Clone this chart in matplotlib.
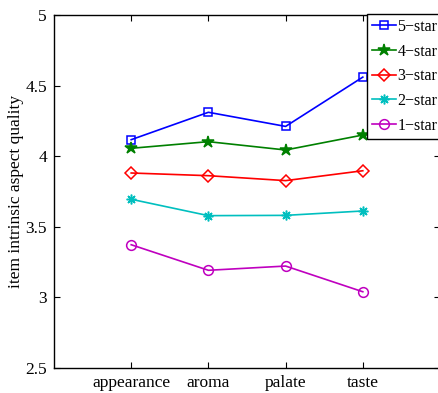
import matplotlib
matplotlib.use("Agg")
import matplotlib.pyplot as plt

aspects = ["appearance", "aroma", "palate", "taste"]
star5 = [4.117, 4.311, 4.211, 4.56]
star4 = [4.056, 4.103, 4.044, 4.15]
star3 = [3.881, 3.862, 3.827, 3.897]
star2 = [3.695, 3.579, 3.581, 3.612]
star1 = [3.373, 3.192, 3.222, 3.040]
labels = ["5\u2212star", "4\u2212star", "3\u2212star", "2\u2212star", "1\u2212star"]

plt.rcParams['font.family'] = ['Liberation Serif', 'DejaVu Serif']
fig = plt.figure(figsize=(4.38, 3.93), dpi=100)
ax = fig.add_axes([54/438, 1-368/393, 386/438, 353/393])

x = [1, 2, 3, 4]
styles = [
    (star5, 'b', 's', 6, 'none'),
    (star4, 'g', '*', 9, 'g'),
    (star3, 'r', 'D', 6, 'none'),
    (star2, 'c', (8, 2, 0), 7, 'c'),
    (star1, 'm', 'o', 7, 'none'),
]
for (vals, c, m, ms, fc), lab in zip(styles, labels):
    ax.plot(x, vals, color=c, marker=m, markersize=ms, markerfacecolor=fc,
            markeredgecolor=c, markeredgewidth=1.1, linewidth=1.2, label=lab)

ax.set_xlim(0, 5)
ax.set_ylim(2.5, 5)
ax.set_xticks(x)
ax.set_xticklabels(aspects)
ax.set_yticks([2.5, 3, 3.5, 4, 4.5, 5])
ax.set_yticklabels(["2.5", "3", "3.5", "4", "4.5", "5"])
ax.tick_params(direction='in', top=True, right=True, labelsize=12.5, length=4, width=0.8, pad=5)
ax.set_ylabel("item intrinsic aspect quality", fontsize=12.5, labelpad=1)
for s in ax.spines.values():
    s.set_linewidth(1.0)

leg = ax.legend(loc='upper left', bbox_to_anchor=((367-54)/386, 1.003), fontsize=11.5,
                frameon=True, fancybox=False, edgecolor='k', framealpha=1,
                handlelength=1.5, borderaxespad=0.0, labelspacing=0.55,
                handletextpad=0.1, borderpad=0.3)
leg.get_frame().set_linewidth(1.0)

fig.savefig("out.png", dpi=100)
